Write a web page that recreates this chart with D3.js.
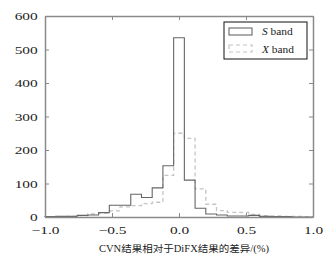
<!DOCTYPE html>
<html>
<head>
<meta charset="utf-8">
<script src="https://cdn.jsdelivr.net/npm/d3@7"></script>
<style>
  body { margin: 0; background: #fff; }
  svg { display: block; }
</style>
</head>
<body>
<script>
// bin edges: -1.0 .. 1.0 in steps of 0.08 (25 bins)
var binEdges = [-1.00, -0.92, -0.84, -0.76, -0.68, -0.60, -0.52, -0.44, -0.36, -0.28, -0.20, -0.12, -0.04,
                 0.04, 0.12, 0.20, 0.28, 0.36, 0.44, 0.52, 0.60, 0.68, 0.76, 0.84, 0.92, 1.00];
var sBand = [1, 2, 2, 5, 6, 13, 35, 35, 68, 58, 87, 153, 535, 110, 26, 9, 6, 3, 3, 5, 2, 1, 1, 0, 0];
var xBand = [1, 1, 2, 4, 9, 12, 18, 30, 34, 40, 44, 124, 250, 235, 84, 38, 19, 14, 14, 8, 4, 3, 2, 2, 1];
var xTicks = [-1.0, -0.5, 0.0, 0.5, 1.0];
var yTicks = [0, 100, 200, 300, 400, 500, 600];
var seriesNames = ["S", "X"];

var w = 336, h = 261;
var padL = 45, padR = 313, padT = 16, padB = 217;
var sx = 1.4; // reference text looks horizontally stretched

var svg = d3.select("body").append("svg")
    .attr("width", w)
    .attr("height", h);

var x = d3.scaleLinear().domain([-1, 1]).range([padL, padR]);
var y = d3.scaleLinear().domain([0, 600]).range([padB, padT]);

function stepPoints(vals) {
  var pts = [[binEdges[0], 0]];
  for (var i = 0; i < vals.length; i++) {
    pts.push([binEdges[i], vals[i]]);
    pts.push([binEdges[i + 1], vals[i]]);
  }
  pts.push([binEdges[binEdges.length - 1], 0]);
  return pts;
}

var line = d3.line()
    .x(function(d) { return x(d[0]); })
    .y(function(d) { return y(d[1]); });

// X band first, dashed light grey
svg.append("path")
   .attr("d", line(stepPoints(xBand)))
   .attr("fill", "none")
   .attr("stroke", "#c4c4c4")
   .attr("stroke-width", 1.3)
   .attr("stroke-dasharray", "4,3");

svg.append("path")
   .attr("d", line(stepPoints(sBand)))
   .attr("fill", "none")
   .attr("stroke", "#666")
   .attr("stroke-width", 1.1);

// axes, ticks inward on all four sides
var fmt = d3.format(".1f");
var gBottom = svg.append("g").attr("transform", "translate(0," + padB + ")")
   .call(d3.axisBottom(x).tickValues(xTicks).tickFormat(fmt).tickSizeInner(-4).tickSizeOuter(0).tickPadding(9.5));
var gTop = svg.append("g").attr("transform", "translate(0," + padT + ")")
   .call(d3.axisTop(x).tickValues(xTicks).tickFormat("").tickSizeInner(-4).tickSizeOuter(0));
var gLeft = svg.append("g").attr("transform", "translate(" + padL + ",0)")
   .call(d3.axisLeft(y).tickValues(yTicks).tickSizeInner(-4).tickSizeOuter(0).tickPadding(7.3));
var gRight = svg.append("g").attr("transform", "translate(" + padR + ",0)")
   .call(d3.axisRight(y).tickValues(yTicks).tickFormat("").tickSizeInner(-4).tickSizeOuter(0));

[gBottom, gTop, gLeft, gRight].forEach(function(g) {
  g.select(".domain").attr("stroke", "#8a8a8a").attr("stroke-width", 1.5);
  g.selectAll(".tick line").attr("stroke", "#8a8a8a").attr("stroke-width", 1);
  g.selectAll("text")
   .attr("font-family", "'Liberation Serif', 'DejaVu Serif', serif")
   .attr("font-size", "11px")
   .attr("fill", "#222");
});

gBottom.selectAll(".tick text").attr("transform", "scale(" + sx + ",1)");
gLeft.selectAll(".tick text")
   .attr("x", -7.3 / sx)
   .attr("transform", "scale(" + sx + ",1)");

// x axis title
svg.append("text")
   .attr("x", 184)
   .attr("y", 252)
   .attr("text-anchor", "middle")
   .attr("font-family", "'Liberation Serif', 'Noto Sans CJK SC', serif")
   .attr("font-size", "9.5px")
   .attr("fill", "#222")
   .attr("textLength", 170)
   .attr("lengthAdjust", "spacingAndGlyphs")
   .text("CVN结果相对于DiFX结果的差异/(%)");

// legend
var lg = svg.append("g");
lg.append("rect")
  .attr("x", 224).attr("y", 22).attr("width", 83).attr("height", 37)
  .attr("fill", "#fff").attr("stroke", "#111").attr("stroke-width", 1);
lg.append("rect")
  .attr("x", 229).attr("y", 28).attr("width", 23).attr("height", 7)
  .attr("fill", "none").attr("stroke", "#666").attr("stroke-width", 1.1);
lg.append("rect")
  .attr("x", 229).attr("y", 45).attr("width", 23).attr("height", 7)
  .attr("fill", "none").attr("stroke", "#c4c4c4").attr("stroke-width", 1.2)
  .attr("stroke-dasharray", "4,3");

seriesNames.forEach(function(name, i) {
  var t = lg.append("text")
    .attr("transform", "translate(262," + (35 + i * 17.5) + ") scale(1.2,1)")
    .attr("font-family", "'Liberation Serif', serif")
    .attr("font-size", "9.5px")
    .attr("fill", "#222");
  t.append("tspan").attr("font-style", "italic").text(name);
  t.append("tspan").text(" band");
});
</script>
</body>
</html>
